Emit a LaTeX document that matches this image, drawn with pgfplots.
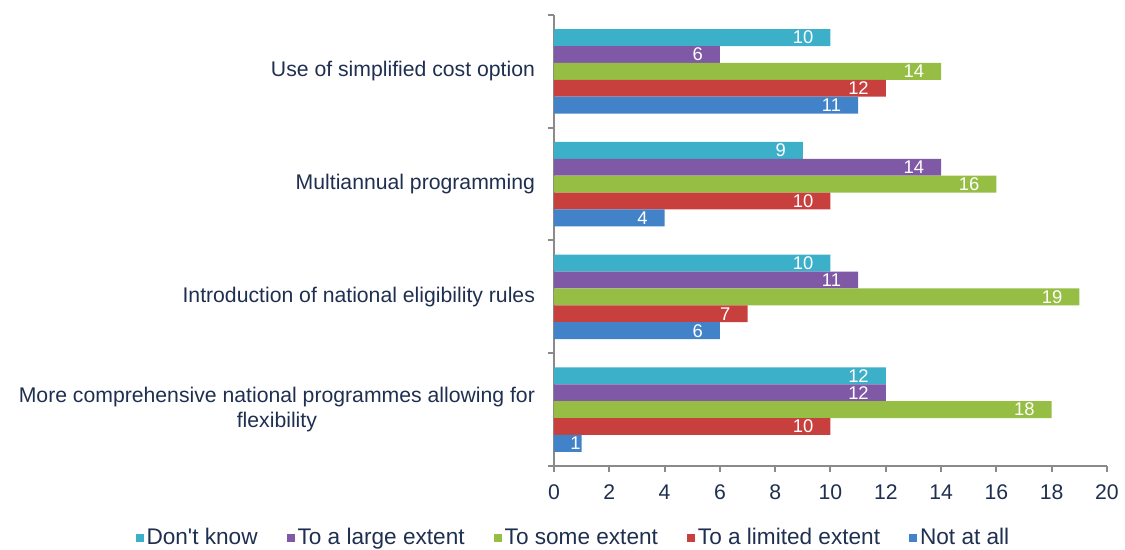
\documentclass[border=0pt]{standalone}
\usepackage{fontspec}
\setmainfont{Liberation Sans}
\usepackage{pgfplots}
\pgfplotsset{compat=1.18}
\definecolor{cDK}{HTML}{3CB0C8}
\definecolor{cLarge}{HTML}{7F58A6}
\definecolor{cSome}{HTML}{96BE45}
\definecolor{cLim}{HTML}{C8403E}
\definecolor{cNot}{HTML}{4282C8}
\definecolor{navy}{HTML}{1F2F4F}
\definecolor{axgray}{HTML}{8A8A8A}
\begin{document}
\begin{tikzpicture}
\path[use as bounding box] (0,0) rectangle (562.5pt,275pt);
\begin{axis}[
  at={(277pt,42pt)}, anchor=south west,
  scale only axis, width=276.5pt, height=225.5pt,
  xbar, bar width=0.15,
  xmin=0, xmax=20, xtick={0,2,...,20},
  ymin=-0.5, ymax=3.5,
  ytick={-0.5,0.5,1.5,2.5,3.5}, yticklabels={},
  extra y ticks={0,1,2,3},
  extra y tick labels={{More comprehensive national programmes allowing for\\flexibility},Introduction of national eligibility rules,Multiannual programming,Use of simplified cost option},
  extra y tick style={major tick length=0pt, tick style={draw=none}},
  yticklabel style={align=center, font=\fontsize{10.6}{12.5}\selectfont, text=navy, xshift=-6pt},
  xticklabel style={font=\fontsize{10.6}{12.5}\selectfont, text=navy, yshift=-3pt},
  /pgf/number format/assume math mode=true,
  axis x line*=bottom, axis y line*=left,
  axis line style={axgray, line width=1pt},
  tick style={axgray, line width=1pt},
  tick align=outside, major tick length=3pt,
  nodes near coords,
  every node near coord/.append style={anchor=east, xshift=-5pt, text=white, inner ysep=0pt, font=\fontsize{9.2}{10}\selectfont},
  legend style={at={(0.036,-0.16)}, anchor=center, draw=none, fill=none,
    legend columns=5, font=\fontsize{11.3}{13}\selectfont, text=navy,
    /tikz/every even column/.append style={column sep=13pt},
    nodes={inner sep=1.5pt}},
  legend image code/.code={\fill[#1] (0pt,-2pt) rectangle (4pt,2pt);},
  clip=false,
]
\addplot[fill=cDK, draw=none, bar shift=0.3] coordinates {(10,3) (9,2) (10,1) (12,0)};
\addplot[fill=cLarge, draw=none, bar shift=0.15] coordinates {(6,3) (14,2) (11,1) (12,0)};
\addplot[fill=cSome, draw=none, bar shift=0] coordinates {(14,3) (16,2) (19,1) (18,0)};
\addplot[fill=cLim, draw=none, bar shift=-0.15] coordinates {(12,3) (10,2) (7,1) (10,0)};
\addplot[fill=cNot, draw=none, bar shift=-0.3, coordinate style/.condition={x<2}{xshift=8pt}] coordinates {(11,3) (4,2) (6,1) (1,0)};
\legend{Don\textquotesingle t know,To a large extent,To some extent,To a limited extent,Not at all}
\end{axis}
\end{tikzpicture}
\end{document}
